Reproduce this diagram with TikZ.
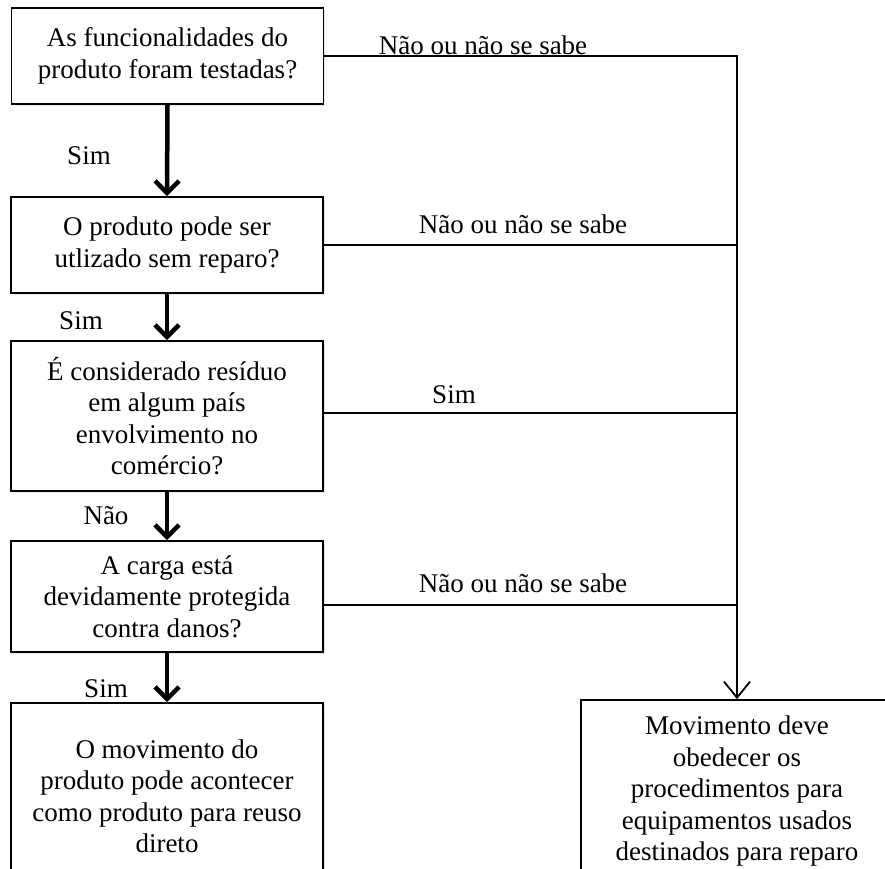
\documentclass[tikz,border=0pt]{standalone}
\usepackage{fontspec}
\setmainfont{Liberation Serif}
\usetikzlibrary{arrows.meta,shadows}
\begin{document}
\begin{tikzpicture}[x=1pt,y=-1pt,
  box/.style={draw,line width=1.8pt,fill=white,align=center,inner sep=0pt,
    minimum width=312pt,font=\fontsize{27}{31.5}\selectfont,
    drop shadow={opacity=0.18,shadow xshift=1.5pt,shadow yshift=-2pt}},
  lbl/.style={font=\fontsize{27}{31.5}\selectfont,inner sep=0pt},
  bigarrow/.style={line width=4.5pt,-{Straight Barb[length=12pt,width=24pt,line width=4.5pt]}},
  thinline/.style={line width=1.8pt},
  thinarrow/.style={line width=1.8pt,-{Straight Barb[length=16pt,width=26pt,line width=1.8pt]}}
]
\useasboundingbox (0,0) rectangle (885,868);
\clip (0,0) rectangle (885,868);

\node[box,minimum height=96pt] (b1) at (167.5,56) {As funcionalidades do\\produto foram testadas?};
\node[box,minimum height=96pt] (b2) at (167,245) {O produto pode ser\\utlizado sem reparo?};
\node[box,minimum height=150pt] (b3) at (167,416) {É considerado resíduo\\em algum país\\envolvimento no\\comércio?};
\node[box,minimum height=111pt] (b4) at (167,596.5) {A carga está\\devidamente protegida\\contra danos?};
\node[box,minimum height=186pt] (b5) at (167,796) {O movimento do\\produto pode acontecer\\como produto para reuso\\direto};
\node[box,minimum height=182pt] (rb) at (737,791) {Movimento deve\\obedecer os\\procedimentos para\\equipamentos usados\\destinados para reparo};

\draw[bigarrow] (b1.south) -- (b2.north);
\draw[bigarrow] (b2.south) -- (b3.north);
\draw[bigarrow] (b3.south) -- (b4.north);
\draw[bigarrow] (b4.south) -- (b5.north);

\coordinate (j1) at (737,56);
\coordinate (j2) at (737,245);
\coordinate (j3) at (737,413);
\coordinate (j4) at (737,605);

\draw[thinarrow] (b1.east) -- (j1) -- (rb.north);
\draw[thinline] (b2.east) -- (j2);
\draw[thinline] (j3 -| b3.east) -- (j3);
\draw[thinline] (j4 -| b4.east) -- (j4);

\node[lbl] (l1) at (483,45) {Não ou não se sabe};
\node[lbl] (l2) at (523,224) {Não ou não se sabe};
\node[lbl] (l3) at (454,395) {Sim};
\node[lbl] (l4) at (523,583) {Não ou não se sabe};

\node[lbl] (s1) at (89,156) {Sim};
\node[lbl] (s2) at (81,321) {Sim};
\node[lbl] (s3) at (106,516) {Não};
\node[lbl] (s4) at (106,689) {Sim};
\end{tikzpicture}
\end{document}
